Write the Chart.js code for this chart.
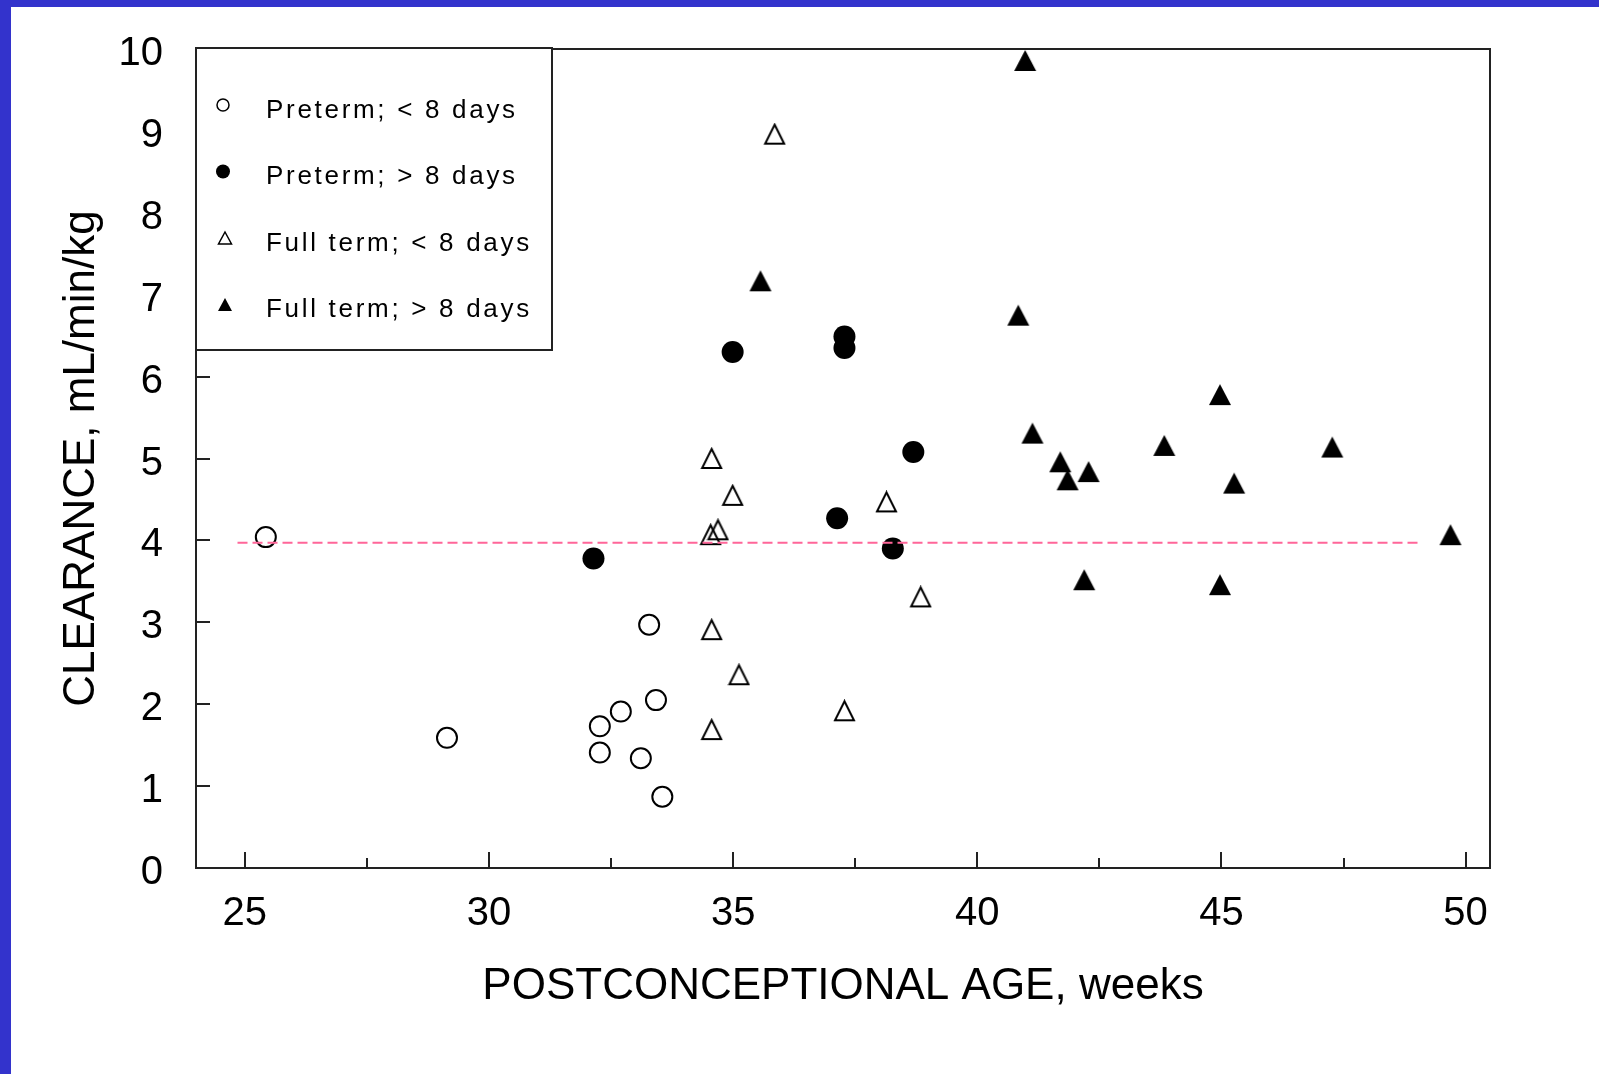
<!DOCTYPE html>
<html>
<head>
<meta charset="utf-8">
<title>Clearance vs postconceptional age</title>
<script src="https://cdn.jsdelivr.net/npm/chart.js@4.4.1/dist/chart.umd.min.js"></script>
<style>
  html, body { margin: 0; padding: 0; background: #fff; overflow: hidden; }
  #wrap { position: relative; width: 1599px; height: 1074px; }
  #myChart { position: absolute; left: 0; top: 0; }
  .band { position: absolute; background: #3333cc; }
</style>
</head>
<body>
<div id="wrap">
  <canvas id="myChart" width="1599" height="1074"></canvas>
  <div class="band" style="left:0;top:0;width:1599px;height:7px"></div>
  <div class="band" style="left:0;top:0;width:11px;height:1074px"></div>
</div>
<script>
const ctx = document.getElementById('myChart');
const family = '"Liberation Sans", Arial, Helvetica, sans-serif';

// ticks
const xTicks = [25, 30, 35, 40, 45, 50];
const yTicks = [0, 1, 2, 3, 4, 5, 6, 7, 8, 9, 10];

// series names (legend)
const seriesNames = ['Preterm; < 8 days', 'Preterm; > 8 days', 'Full term; < 8 days', 'Full term; > 8 days'];

// Preterm, < 8 days (open circles)
const pretermLtX = [25.43, 29.14, 33.28, 33.42, 32.70, 32.27, 32.27, 33.11, 33.55];
const pretermLtY = [4.04, 1.59, 2.97, 2.05, 1.91, 1.73, 1.41, 1.34, 0.87];

// Preterm, > 8 days (filled circles)
const pretermGtX = [32.14, 34.99, 37.28, 37.28, 38.69, 37.13, 38.27];
const pretermGtY = [3.78, 6.30, 6.49, 6.35, 5.08, 4.27, 3.90];

// Full term, < 8 days (open triangles)
const fullLtX = [35.85, 34.56, 34.99, 34.54, 34.69, 38.14, 38.84, 34.56, 35.12, 37.28, 34.56];
const fullLtY = [8.96, 5.00, 4.55, 4.07, 4.13, 4.47, 3.31, 2.91, 2.36, 1.92, 1.69];

// Full term, > 8 days (filled triangles)
const fullGtX = [40.98, 35.56, 40.84, 41.13, 41.70, 41.85, 42.28, 42.19, 43.83, 44.97, 44.97, 45.26, 47.27, 49.69];
const fullGtY = [9.86, 7.17, 6.75, 5.31, 4.96, 4.74, 4.84, 3.52, 5.16, 5.78, 3.46, 4.70, 5.14, 4.07];

// dashed reference line
const refX = [24.85, 49.05];
const refY = [3.97, 3.97];

const toPoints = (xs, ys) => xs.map((x, i) => ({ x: x, y: ys[i] }));

// dibuja un marcador (circulo o triangulo)
function drawMarker(c, shape, filled, cx, cy, w, h, lw) {
  c.beginPath();
  if (shape === 'circle') {
    c.ellipse(cx, cy, w / 2, h / 2, 0, 0, Math.PI * 2);
  } else {
    c.moveTo(cx, cy - h / 2);
    c.lineTo(cx + w / 2, cy + h / 2);
    c.lineTo(cx - w / 2, cy + h / 2);
    c.closePath();
  }
  if (filled) {
    c.fillStyle = '#000';
    c.fill();
  } else {
    c.lineWidth = lw;
    c.strokeStyle = '#000';
    c.stroke();
  }
}

function markerImage(shape, filled, w, h, lw) {
  const cv = document.createElement('canvas');
  cv.width = Math.ceil(w + lw + 2);
  cv.height = Math.ceil(h + lw + 2);
  drawMarker(cv.getContext('2d'), shape, filled, cv.width / 2, cv.height / 2, w, h, lw);
  return cv;
}

const openTri = markerImage('triangle', false, 19, 19, 2);
const fullTri = markerImage('triangle', true, 22, 21, 0);

const legendMarks = [
  { shape: 'circle', filled: false, w: 12, h: 12, dx: 27 },
  { shape: 'circle', filled: true, w: 14, h: 14, dx: 27 },
  { shape: 'triangle', filled: false, w: 13, h: 12, dx: 29 },
  { shape: 'triangle', filled: true, w: 14, h: 13, dx: 29 }
];

// marco, marcas de los ejes y leyenda
const framePlugin = {
  id: 'frame',
  afterDatasetsDraw(chart) {
    const c = chart.ctx;
    const a = chart.chartArea;
    const x = chart.scales.x;
    const y = chart.scales.y;
    c.save();
    c.strokeStyle = '#222';
    c.lineWidth = 2;
    c.strokeRect(a.left, a.top, a.right - a.left, a.bottom - a.top);
    c.beginPath();
    xTicks.forEach(v => {
      const px = Math.round(x.getPixelForValue(v));
      c.moveTo(px, a.bottom);
      c.lineTo(px, a.bottom - 16);
      const m = v + 2.5;
      if (m < x.max) {
        const pm = Math.round(x.getPixelForValue(m));
        c.moveTo(pm, a.bottom);
        c.lineTo(pm, a.bottom - 10);
      }
    });
    y.ticks.forEach(t => {
      if (t.value <= y.min || t.value >= y.max) return;
      const py = Math.round(y.getPixelForValue(t.value));
      c.moveTo(a.left, py);
      c.lineTo(a.left + 14, py);
    });
    c.stroke();

    // leyenda
    const bx = a.left, by = a.top - 1, bw = 356, bh = 302;
    c.fillStyle = '#fff';
    c.fillRect(bx, by, bw, bh);
    c.strokeRect(bx, by, bw, bh);
    c.font = '26px ' + family;
    c.textAlign = 'left';
    c.textBaseline = 'alphabetic';
    if ('letterSpacing' in c) c.letterSpacing = '2.7px';
    seriesNames.forEach((name, i) => {
      const m = legendMarks[i];
      drawMarker(c, m.shape, m.filled, a.left + m.dx, a.top + 56 + i * 66.5, m.w, m.h, 1.5);
      c.fillStyle = '#000';
      c.fillText(name, a.left + 70, a.top + 68.5 + i * 66.5);
    });
    if ('letterSpacing' in c) c.letterSpacing = '0px';
    c.restore();
  }
};

new Chart(ctx, {
  type: 'scatter',
  data: {
    datasets: [
      {
        type: 'line',
        label: 'reference',
        data: toPoints(refX, refY),
        borderColor: '#ff6699',
        borderWidth: 2,
        borderDash: [10, 5],
        pointRadius: 0,
        fill: false,
        order: -1
      },
      {
        label: seriesNames[0],
        data: toPoints(pretermLtX, pretermLtY),
        pointStyle: 'circle',
        pointRadius: 10,
        borderWidth: 2,
        borderColor: '#000',
        backgroundColor: 'rgba(0,0,0,0)'
      },
      {
        label: seriesNames[1],
        data: toPoints(pretermGtX, pretermGtY),
        pointStyle: 'circle',
        pointRadius: 11,
        borderWidth: 0,
        borderColor: '#000',
        backgroundColor: '#000'
      },
      {
        label: seriesNames[2],
        data: toPoints(fullLtX, fullLtY),
        pointStyle: openTri,
        pointRadius: 10
      },
      {
        label: seriesNames[3],
        data: toPoints(fullGtX, fullGtY),
        pointStyle: fullTri,
        pointRadius: 11
      }
    ]
  },
  options: {
    responsive: false,
    animation: false,
    events: [],
    layout: { padding: { top: 49, right: 109, left: 0, bottom: 0 } },
    plugins: {
      legend: { display: false },
      tooltip: { enabled: false }
    },
    scales: {
      x: {
        type: 'linear',
        min: 24,
        max: 50.5,
        afterBuildTicks: s => { s.ticks = xTicks.map(v => ({ value: v })); },
        afterFit: s => { s.height = 206; },
        grid: { display: false, drawTicks: false },
        border: { display: false },
        ticks: {
          color: '#000',
          font: { family: family, size: 40 },
          padding: 22,
          maxRotation: 0,
          autoSkip: false
        },
        title: {
          display: true,
          text: 'POSTCONCEPTIONAL AGE, weeks',
          color: '#000',
          font: { family: family, size: 44 },
          padding: { top: 0, bottom: 61 }
        }
      },
      y: {
        type: 'linear',
        min: 0,
        max: 10,
        afterBuildTicks: s => { s.ticks = yTicks.map(v => ({ value: v })); },
        afterFit: s => { s.width = 196; },
        grid: { display: false, drawTicks: true, tickLength: 33 },
        border: { display: false },
        ticks: {
          color: '#000',
          font: { family: family, size: 40 },
          padding: 0,
          labelOffset: 5,
          autoSkip: false
        },
        title: {
          display: true,
          text: 'CLEARANCE, mL/min/kg',
          color: '#000',
          font: { family: family, size: 44 },
          padding: { top: 55, bottom: 0 }
        }
      }
    }
  },
  plugins: [framePlugin]
});
</script>
</body>
</html>
